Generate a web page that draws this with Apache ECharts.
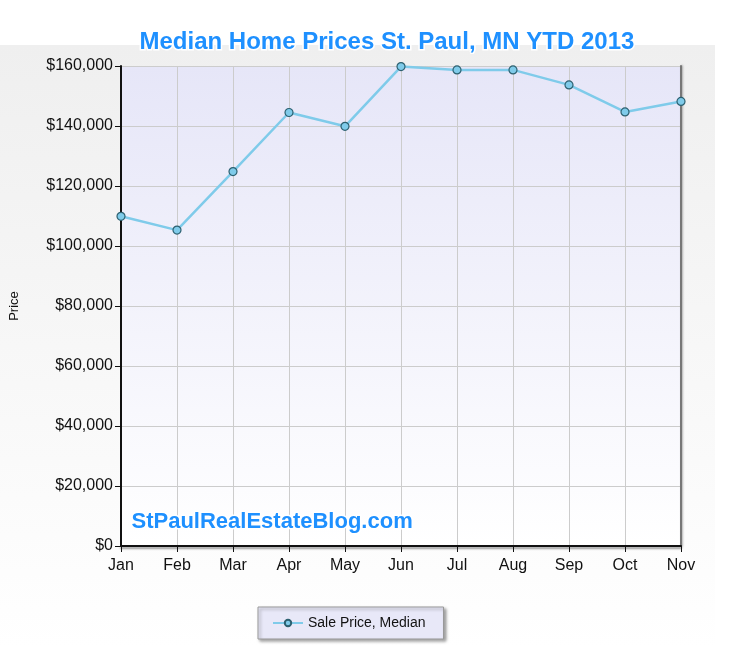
<!DOCTYPE html>
<html><head><meta charset="utf-8">
<script src="https://cdn.jsdelivr.net/npm/echarts@6/dist/echarts.min.js"></script>
<style>html,body{margin:0;padding:0;background:#fff}#c{width:749px;height:648px}</style>
</head><body><div id="c"></div>
<script>
var categories = ['Jan','Feb','Mar','Apr','May','Jun','Jul','Aug','Sep','Oct','Nov'];
var salePriceMedian = [109900, 105300, 124800, 144500, 139900, 159800, 158700, 158700, 153700, 144700, 148200];
var yTicks = [0, 20000, 40000, 60000, 80000, 100000, 120000, 140000, 160000];

var chart = echarts.init(document.getElementById('c'));
var blueText = {
  fill: '#1e90ff', fontWeight: 'bold', fontFamily: 'Liberation Sans, Arial, sans-serif',
  stroke: '#ffffff', lineWidth: 3, shadowColor: 'rgba(0,0,0,0.45)', shadowBlur: 3, shadowOffsetX: 1, shadowOffsetY: 1
};
chart.setOption({
  animation: false,
  backgroundColor: '#ffffff',
  textStyle: { fontFamily: 'Liberation Sans, Arial, sans-serif' },
  graphic: [
    { type: 'rect', left: 0, top: 45, z: -10, silent: true,
      shape: { width: 715, height: 603 },
      style: { fill: new echarts.graphic.LinearGradient(0, 0, 0, 1, [
        { offset: 0, color: '#efefef' }, { offset: 1, color: '#ffffff' }]) } },
    { type: 'text', left: 138, top: 29, z: 10,
      style: Object.assign({ text: 'Median Home Prices St. Paul, MN YTD 2013', fontSize: 24 }, blueText) },
    { type: 'text', left: 130, top: 509, z: 10,
      style: Object.assign({ text: 'StPaulRealEstateBlog.com', fontSize: 22 }, blueText) }
  ],
  grid: {
    left: 121, right: 68, top: 66, bottom: 102, show: true, borderWidth: 0,
    backgroundColor: new echarts.graphic.LinearGradient(0, 0, 0, 1, [
      { offset: 0, color: '#e6e6f8' }, { offset: 1, color: '#ffffff' }])
  },
  legend: {
    left: 258, top: 607,
    padding: [9, 18, 9, 14],
    backgroundColor: '#e8e8f8', borderColor: '#999', borderWidth: 1,
    shadowColor: 'rgba(0,0,0,0.35)', shadowBlur: 3, shadowOffsetX: 2, shadowOffsetY: 2,
    itemWidth: 30, itemHeight: 8,
    textStyle: { fontSize: 14, color: '#111', fontFamily: 'Liberation Sans, Arial, sans-serif' },
    data: ['Sale Price, Median']
  },
  xAxis: {
    type: 'category', data: categories, boundaryGap: false,
    axisLine: { lineStyle: { color: '#111', width: 2, shadowColor: 'rgba(0,0,0,0.4)', shadowBlur: 2, shadowOffsetY: 2 } },
    axisTick: { show: true, length: 6, lineStyle: { color: '#111', width: 1 } },
    axisLabel: { fontSize: 16, color: '#111', margin: 12 },
    splitLine: { show: true, lineStyle: { color: '#cccccc', width: 1 } }
  },
  yAxis: [{
    type: 'value', min: 0, max: 160000, interval: 20000,
    name: 'Price', nameLocation: 'middle', nameGap: 100, nameRotate: 90,
    nameTextStyle: { fontSize: 13, color: '#111' },
    axisLine: { show: true, lineStyle: { color: '#111', width: 2 } },
    axisTick: { show: true, length: 6, lineStyle: { color: '#111' } },
    axisLabel: { fontSize: 16, color: '#111', margin: 8,
      formatter: function (v) { return yTicks.indexOf(v) >= 0 ? '$' + v.toLocaleString('en-US') : ''; } },
    splitLine: { show: true, lineStyle: { color: '#cccccc', width: 1 } }
  }, {
    type: 'value', position: 'right', min: 0, max: 160000, interval: 20000,
    axisLine: { show: true, lineStyle: { color: '#777', width: 2, shadowColor: 'rgba(0,0,0,0.3)', shadowBlur: 2, shadowOffsetX: 1 } },
    axisTick: { show: false }, axisLabel: { show: false }, splitLine: { show: false }
  }],
  series: [{
    name: 'Sale Price, Median', type: 'line', data: salePriceMedian,
    symbol: 'circle', symbolSize: 8,
    lineStyle: { color: '#7fcbea', width: 2.5 },
    itemStyle: { color: '#7fcbea', borderColor: '#2d6070', borderWidth: 1.2 }
  }]
});
</script></body></html>
